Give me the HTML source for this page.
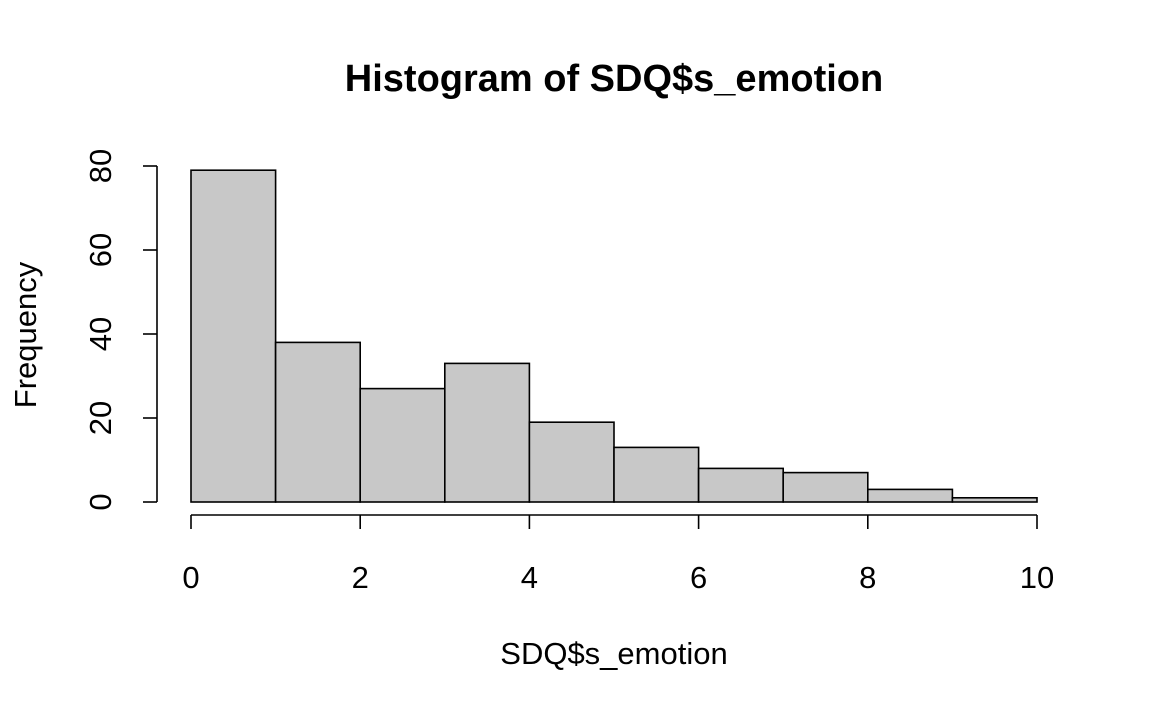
<!DOCTYPE html>
<html><head><meta charset="utf-8"><style>
html,body{margin:0;padding:0;background:#fff;}
svg{display:block;font-family:"Liberation Sans",Arial,sans-serif;}
</style></head><body>
<svg id="chart" width="1152" height="711" viewBox="0 0 1152 711">
<text x="614" y="91" text-anchor="middle" font-size="38" font-weight="bold">Histogram of SDQ$s_emotion</text>
<text x="614" y="664" text-anchor="middle" font-size="31">SDQ$s_emotion</text>
<text transform="translate(36,335) rotate(-90)" text-anchor="middle" font-size="31">Frequency</text>
<g id="bars"></g>
<g id="xaxis"></g>
<g id="yaxis"></g>
</svg>
<script>
const binEdges = [0,1,2,3,4,5,6,7,8,9,10];
const counts = [79,38,27,33,19,13,8,7,3,1];
const xTicks = [0,2,4,6,8,10];
const yTicks = [0,20,40,60,80];
const NS='http://www.w3.org/2000/svg';
const x = v => 191 + v*84.6;
const y = v => 502 - v*4.2;
function mk(tag, attrs, parent){const e=document.createElementNS(NS,tag);for(const k in attrs)e.setAttribute(k,attrs[k]);parent.appendChild(e);return e;}
const bars=document.getElementById('bars');
counts.forEach((c,i)=>{
  const r=mk('rect',{x:x(binEdges[i]),y:y(c),width:x(binEdges[i+1])-x(binEdges[i]),height:y(0)-y(c),fill:'#c8c8c8',stroke:'#000','stroke-width':1.6},bars);
  
  
});
const xa=document.getElementById('xaxis');
mk('line',{x1:x(xTicks[0]),x2:x(xTicks[xTicks.length-1]),y1:515,y2:515,stroke:'#000','stroke-width':1.6},xa);
xTicks.forEach(t=>{
  mk('line',{x1:x(t),x2:x(t),y1:515,y2:529,stroke:'#000','stroke-width':1.6},xa);
  const tx=mk('text',{x:x(t),y:588,'text-anchor':'middle','font-size':31},xa);
  tx.textContent=t;
  
  
});
const ya=document.getElementById('yaxis');
mk('line',{x1:157,x2:157,y1:y(yTicks[0]),y2:y(yTicks[yTicks.length-1]),stroke:'#000','stroke-width':1.6},ya);
yTicks.forEach(t=>{
  mk('line',{x1:143,x2:157,y1:y(t),y2:y(t),stroke:'#000','stroke-width':1.6},ya);
  const tx=mk('text',{transform:`translate(111,${y(t)}) rotate(-90)`,'text-anchor':'middle','font-size':31},ya);
  tx.textContent=t;
  
  
});
</script>
</body></html>
